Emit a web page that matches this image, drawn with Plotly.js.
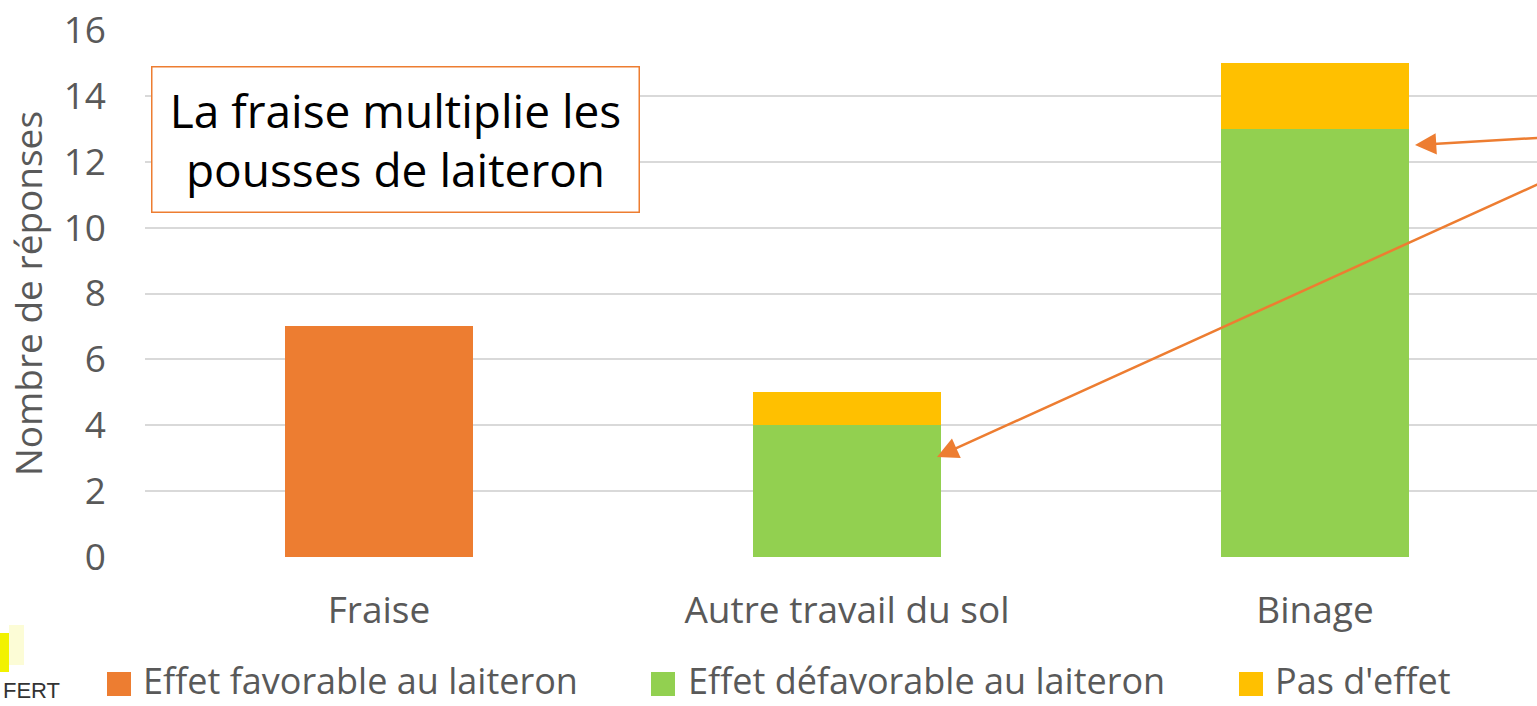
<!DOCTYPE html>
<html>
<head>
<meta charset="utf-8">
<script src="https://cdn.plot.ly/plotly-3.0.1.min.js"></script>
<style>html,body{margin:0;padding:0;background:#fff;}#chart{width:1537px;height:706px;}</style>
</head>
<body>
<div id="chart"></div>
<script>
const categories = ["Fraise", "Autre travail du sol", "Binage"];
const favorable = [7, 0, 0];
const defavorable = [0, 4, 13];
const sansEffet = [0, 1, 2];
const seriesNames = ["Effet favorable au laiteron", "Effet défavorable au laiteron", "Pas d'effet"];
const seriesColors = ["#ED7D31", "#92D050", "#FFC000"];
const yTicks = [0, 2, 4, 6, 8, 10, 12, 14, 16];

const W = 1537, H = 706, L = 145, R = 0, T = 30, B = 149;
const plotW = W - L - R, plotH = H - T - B;
const xIdx = categories.map((c, i) => i);
const catW = 468;
const xMin = -0.5, xMax = -0.5 + plotW / catW;
const px2x = p => xMin + (p - L) / catW;
const px2y = p => 16 * (T + plotH - p) / plotH;
const px2paperX = p => (p - L) / plotW;
const px2paperY = p => (T + plotH - p) / plotH;

const FONT = "Open Sans, sans-serif";
const TXT = "#595959";
const series = [favorable, defavorable, sansEffet];
const data = series.map((vals, i) => ({
  type: "bar", name: seriesNames[i], x: xIdx, y: vals, marker: {color: seriesColors[i]}, width: 0.4, showlegend: false
}));

// custom legend (large square keys like the original)
const legendSquareX = [107, 651, 1239];
const legendTextX = [141, 686, 1273];
const legendShapes = seriesColors.map((c, i) => ({
  type: "rect", xref: "paper", yref: "paper",
  x0: px2paperX(legendSquareX[i]), x1: px2paperX(legendSquareX[i] + 24),
  y0: px2paperY(696), y1: px2paperY(672), fillcolor: c, line: {width: 0}
}));
const legendAnns = seriesNames.map((n, i) => ({
  xref: "paper", yref: "paper", x: px2paperX(legendTextX[i]), y: px2paperY(680),
  xanchor: "left", yanchor: "middle", text: n, showarrow: false,
  font: {size: 36, color: TXT, family: FONT}
}));

const layout = {
  width: W, height: H,
  margin: {l: L, r: R, t: T, b: B, autoexpand: false},
  barmode: "stack",
  paper_bgcolor: "#fff", plot_bgcolor: "#fff",
  font: {family: FONT, color: TXT, size: 37},
  showlegend: false,
  xaxis: {range: [xMin, xMax], tickvals: xIdx, ticktext: categories, showgrid: false, zeroline: false, automargin: false,
          showline: false, ticks: "", tickfont: {size: 37, color: TXT}, ticklabelstandoff: 28, fixedrange: true},
  yaxis: {range: [0, 16], tickvals: yTicks, showgrid: true, gridcolor: "#D9D9D9", gridwidth: 2, zeroline: false, automargin: false,
          showline: false, ticks: "", tickfont: {size: 37, color: TXT}, ticklabelstandoff: 38,
          title: {text: "Nombre de réponses", font: {size: 37, color: TXT}, standoff: 9}, fixedrange: true},
  shapes: [
    {type: "rect", xref: "paper", yref: "paper", x0: px2paperX(0), x1: px2paperX(9), y0: px2paperY(672), y1: px2paperY(633),
     fillcolor: "#F2F200", line: {width: 0}},
    {type: "rect", xref: "paper", yref: "paper", x0: px2paperX(9), x1: px2paperX(24), y0: px2paperY(665), y1: px2paperY(625),
     fillcolor: "#FCFCD6", line: {width: 0}}
  ].concat(legendShapes),
  annotations: [
    {xref: "paper", yref: "paper", x: px2paperX(395), y: px2paperY(139), xanchor: "center", yanchor: "middle",
     text: "La fraise multiplie les<br>pousses de laiteron", showarrow: false, align: "center",
     font: {size: 46, color: "#000", family: FONT}, bgcolor: "#fff", bordercolor: "#ED7D31", borderwidth: 1.5,
     width: 486, height: 144, borderpad: 0},
    {x: px2x(1415), y: px2y(145), xref: "x", yref: "y", ax: px2x(1545), ay: px2y(137.5), axref: "x", ayref: "y",
     text: "", showarrow: true, arrowhead: 2, arrowsize: 1.7, arrowwidth: 2.5, arrowcolor: "#ED7D31", standoff: 0},
    {x: px2x(937), y: px2y(457), xref: "x", yref: "y", ax: px2x(1545), ay: px2y(181), axref: "x", ayref: "y",
     text: "", showarrow: true, arrowhead: 2, arrowsize: 1.7, arrowwidth: 2.5, arrowcolor: "#ED7D31", standoff: 0},
    {xref: "paper", yref: "paper", x: px2paperX(1), y: px2paperY(690), xanchor: "left", yanchor: "middle",
     text: "FERT", showarrow: false, font: {size: 22, color: "#333", family: "Liberation Sans Narrow, Liberation Sans, sans-serif"}}
  ].concat(legendAnns)
};

Plotly.newPlot("chart", data, layout, {displayModeBar: false, staticPlot: true});
</script>
</body>
</html>
